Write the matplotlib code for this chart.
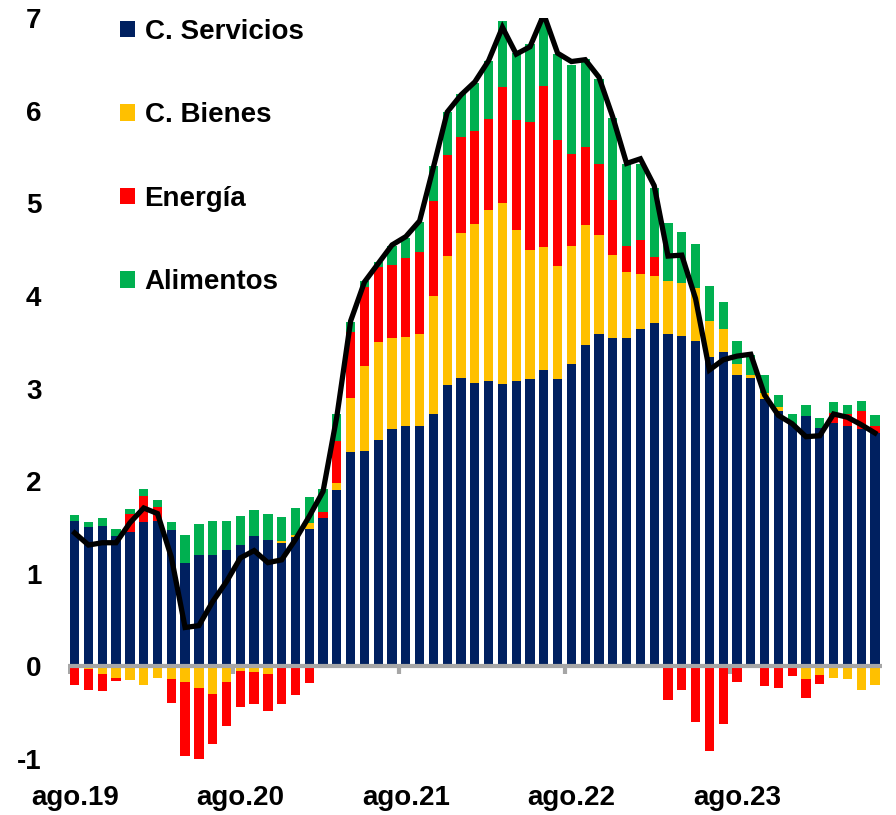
import numpy as np
import matplotlib
matplotlib.use("Agg")
import matplotlib.pyplot as plt
from matplotlib.patches import Patch

plt.rcParams["font.family"] = ["Liberation Sans", "DejaVu Sans"]
plt.rcParams["font.weight"] = "bold"
plt.rcParams["axes.unicode_minus"] = False

# --- Data: contributions by component, monthly ago.19 - jun.24 ---
meses = ["ago", "sep", "oct", "nov", "dic", "ene", "feb", "mar", "abr", "may", "jun", "jul"]
fechas = [f"{meses[i % 12]}.{19 + (i + 7) // 12}" for i in range(59)]

servicios = [1.57, 1.50, 1.52, 1.41, 1.455, 1.56, 1.575, 1.47, 1.12, 1.20, 1.20, 1.26,
             1.315, 1.41, 1.36, 1.33, 1.40, 1.48, 1.60, 1.90, 2.31, 2.33, 2.44, 2.56,
             2.60, 2.59, 2.73, 3.04, 3.11, 3.06, 3.08, 3.05, 3.08, 3.10, 3.20, 3.10,
             3.26, 3.47, 3.59, 3.55, 3.54, 3.64, 3.71, 3.59, 3.57, 3.515, 3.34, 3.39,
             3.15, 3.11, 2.89, 2.755, 2.62, 2.705, 2.57, 2.63, 2.59, 2.565, 2.52]
bienes = [0.0, -0.03, -0.08, -0.13, -0.145, -0.20, -0.13, -0.14, -0.17, -0.235, -0.30, -0.17,
          -0.05, -0.065, -0.08, 0.02, 0.02, 0.07, 0.0, 0.08, 0.59, 0.915, 1.06, 0.98,
          0.96, 1.00, 1.27, 1.39, 1.57, 1.72, 1.845, 1.95, 1.63, 1.39, 1.33, 1.22,
          1.28, 1.30, 1.07, 0.89, 0.72, 0.60, 0.51, 0.57, 0.57, 0.575, 0.39, 0.25,
          0.11, 0.035, 0.06, 0.045, 0.0, -0.14, -0.09, -0.13, -0.14, -0.26, -0.20]
energia = [-0.20, -0.22, -0.19, -0.025, 0.185, 0.28, 0.15, -0.25, -0.80, -0.78, -0.535, -0.475,
           -0.39, -0.34, -0.40, -0.41, -0.31, -0.175, 0.07, 0.45, 0.71, 0.85, 0.81, 0.795,
           0.85, 0.885, 1.02, 1.095, 1.04, 1.00, 0.99, 1.25, 1.19, 1.39, 1.74, 1.36,
           0.99, 0.84, 0.76, 0.59, 0.28, 0.365, 0.20, -0.36, -0.26, -0.605, -0.91, -0.62,
           -0.165, 0.0, -0.21, -0.23, -0.10, -0.205, -0.10, 0.11, 0.13, 0.195, 0.08]
alimentos = [0.06, 0.06, 0.085, 0.07, 0.06, 0.07, 0.07, 0.09, 0.30, 0.34, 0.375, 0.31,
             0.31, 0.28, 0.285, 0.26, 0.29, 0.275, 0.25, 0.29, 0.11, 0.07, 0.06, 0.20,
             0.22, 0.32, 0.38, 0.455, 0.455, 0.52, 0.625, 0.72, 0.72, 0.84, 0.76, 0.93,
             0.96, 0.95, 0.92, 0.89, 0.88, 0.815, 0.75, 0.63, 0.55, 0.47, 0.375, 0.29,
             0.25, 0.215, 0.195, 0.135, 0.10, 0.115, 0.11, 0.11, 0.10, 0.10, 0.11]
total = [1.44, 1.31, 1.335, 1.335, 1.55, 1.71, 1.65, 1.18, 0.42, 0.44, 0.70, 0.915,
         1.17, 1.25, 1.12, 1.15, 1.37, 1.62, 1.89, 2.70, 3.73, 4.15, 4.35, 4.55,
         4.64, 4.81, 5.39, 5.985, 6.17, 6.31, 6.54, 6.90, 6.61, 6.69, 7.04, 6.62,
         6.53, 6.55, 6.36, 5.93, 5.43, 5.48, 5.19, 4.43, 4.44, 3.97, 3.20, 3.31,
         3.35, 3.37, 2.93, 2.71, 2.62, 2.48, 2.49, 2.725, 2.69, 2.61, 2.52]

series = [("C. Servicios", servicios, "#002060"),
          ("C. Bienes", bienes, "#FFC000"),
          ("Energía", energia, "#FF0000"),
          ("Alimentos", alimentos, "#00B050")]

x = np.arange(len(fechas))

fig = plt.figure(figsize=(8.96, 8.15), dpi=100)
ax = fig.add_axes([0.0757, 0.0687, 0.9085, 0.9092])

# --- stacked bars (positives up, negatives down) ---
pos = np.zeros(len(x))
neg = np.zeros(len(x))
for name, vals, col in series:
    v = np.array(vals)
    bottom = np.where(v >= 0, pos, neg)
    ax.bar(x, v, bottom=bottom, width=0.67, color=col, edgecolor="none", zorder=2)
    pos += np.where(v >= 0, v, 0)
    neg += np.where(v < 0, v, 0)

# zero line with small yearly ticks
ax.axhline(0, color="#A6A6A6", lw=3, zorder=3)
ax.vlines(x[::12] - 0.5, -0.08, 0, color="#A6A6A6", lw=3, zorder=1)

ax.plot(x, total, color="black", lw=3.8, zorder=4, solid_joinstyle="miter")

ax.set_xlim(-0.5, len(x) - 0.5)
ax.set_ylim(-1, 7)
ax.set_yticks(range(-1, 8))
ax.set_xticks(x[::12])
ax.set_xticklabels([fechas[i] for i in x[::12]])
ax.tick_params(axis="both", length=0, labelsize=20)
ax.tick_params(axis="y", pad=19)
ax.tick_params(axis="x", pad=19)
for s in ax.spines.values():
    s.set_visible(False)

handles = [Patch(facecolor=c, edgecolor="none") for _, _, c in series]
ax.legend(handles, [n for n, _, _ in series], loc="upper left",
          bbox_to_anchor=(0.1335, 0.977), bbox_transform=fig.transFigure,
          frameon=False, fontsize=20, labelspacing=2.07, handlelength=0.55,
          handleheight=0.55, handletextpad=0.35, borderpad=0, borderaxespad=0)

fig.savefig("out.png", dpi=100)
plt.close(fig)
